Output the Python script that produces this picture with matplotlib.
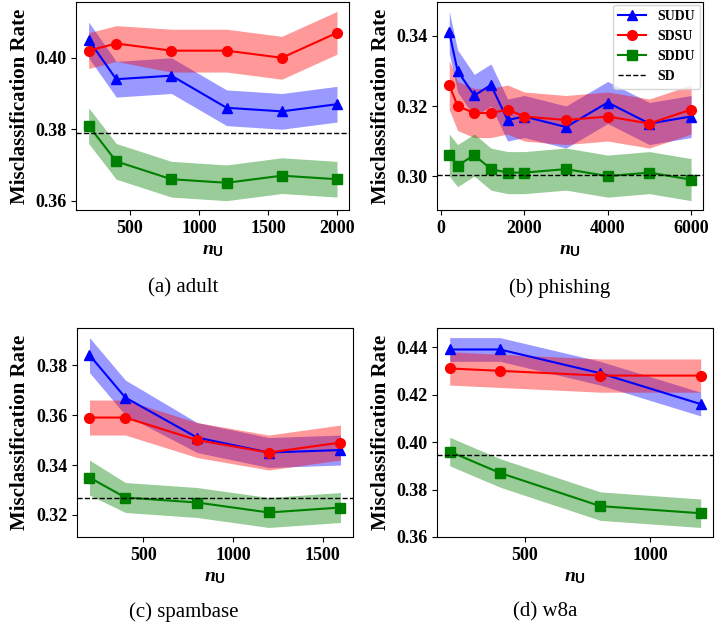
import matplotlib
matplotlib.use('Agg')
import matplotlib.pyplot as plt
from matplotlib.ticker import MultipleLocator
import numpy as np

plt.rcParams['font.family'] = 'Liberation Serif'
plt.rcParams['font.weight'] = 'bold'
plt.rcParams['mathtext.fontset'] = 'custom'
plt.rcParams['mathtext.it'] = 'Liberation Serif:bold:italic'
plt.rcParams['mathtext.sf'] = 'Liberation Sans'

# adult
adult_x = [200, 400, 800, 1200, 1600, 2000]
adult_sudu = [0.405, 0.394, 0.395, 0.386, 0.385, 0.387]
adult_sudu_sd = [0.005, 0.005, 0.005, 0.005, 0.005, 0.005]
adult_sdsu = [0.402, 0.404, 0.402, 0.402, 0.400, 0.407]
adult_sdsu_sd = [0.005, 0.005, 0.006, 0.006, 0.006, 0.006]
adult_sddu = [0.381, 0.371, 0.366, 0.365, 0.367, 0.366]
adult_sddu_sd = [0.005, 0.005, 0.005, 0.005, 0.005, 0.005]
adult_sd = 0.379

# phishing
phish_x = [200, 400, 800, 1200, 1600, 2000, 3000, 4000, 5000, 6000]
phish_sudu = [0.341, 0.330, 0.323, 0.326, 0.316, 0.317, 0.314, 0.321, 0.315, 0.317]
phish_sudu_sd = [0.006] * 10
phish_sdsu = [0.326, 0.320, 0.318, 0.318, 0.319, 0.317, 0.316, 0.317, 0.315, 0.319]
phish_sdsu_sd = [0.007] * 10
phish_sddu = [0.306, 0.303, 0.306, 0.302, 0.301, 0.301, 0.302, 0.300, 0.301, 0.299]
phish_sddu_sd = [0.006] * 10
phish_sd = 0.3004

# spambase
spam_x = [200, 400, 800, 1200, 1600]
spam_sudu = [0.384, 0.367, 0.351, 0.345, 0.346]
spam_sudu_sd = [0.007, 0.007, 0.006, 0.006, 0.006]
spam_sdsu = [0.359, 0.359, 0.350, 0.345, 0.349]
spam_sdsu_sd = [0.007, 0.007, 0.007, 0.007, 0.007]
spam_sddu = [0.335, 0.327, 0.325, 0.321, 0.323]
spam_sddu_sd = [0.007, 0.006, 0.006, 0.006, 0.006]
spam_sd = 0.3267

# w8a
w8a_x = [200, 400, 800, 1200]
w8a_sudu = [0.439, 0.439, 0.429, 0.416]
w8a_sudu_sd = [0.005, 0.005, 0.005, 0.005]
w8a_sdsu = [0.431, 0.430, 0.428, 0.428]
w8a_sdsu_sd = [0.007, 0.007, 0.007, 0.007]
w8a_sddu = [0.396, 0.387, 0.373, 0.370]
w8a_sddu_sd = [0.006, 0.006, 0.006, 0.006]
w8a_sd = 0.3945

panels = [
    ('(a) adult', adult_x, [(adult_sudu, adult_sudu_sd), (adult_sdsu, adult_sdsu_sd), (adult_sddu, adult_sddu_sd)], adult_sd),
    ('(b) phishing', phish_x, [(phish_sudu, phish_sudu_sd), (phish_sdsu, phish_sdsu_sd), (phish_sddu, phish_sddu_sd)], phish_sd),
    ('(c) spambase', spam_x, [(spam_sudu, spam_sudu_sd), (spam_sdsu, spam_sdsu_sd), (spam_sddu, spam_sddu_sd)], spam_sd),
    ('(d) w8a', w8a_x, [(w8a_sudu, w8a_sudu_sd), (w8a_sdsu, w8a_sdsu_sd), (w8a_sddu, w8a_sddu_sd)], w8a_sd),
]

names = ['SUDU', 'SDSU', 'SDDU']
colors = ['b', 'r', 'g']
markers = ['^', 'o', 's']

# axes rectangles in figure fraction
rects = [
    [0.106, 0.667, 0.380, 0.330],
    [0.608, 0.667, 0.370, 0.330],
    [0.107, 0.149, 0.384, 0.331],
    [0.608, 0.149, 0.384, 0.331],
]
caption_pos = [(0.255, 0.544), (0.779, 0.544), (0.256, 0.030), (0.758, 0.030)]

fig = plt.figure(figsize=(7.19, 6.31), dpi=100)

for i, (title, x, series, sd) in enumerate(panels):
    ax = fig.add_axes(rects[i])
    x = np.array(x)
    for (mean, std), name, c, m in zip(series, names, colors, markers):
        mean = np.array(mean)
        std = np.array(std)
        ax.plot(x, mean, color=c, marker=m, markersize=7, linewidth=1.5, label=name)
        ax.fill_between(x, mean - std, mean + std, color=c, alpha=0.4, linewidth=0)
    ax.axhline(sd, color='k', linestyle='--', linewidth=1, label='SD')
    ax.set_ylabel('Misclassification Rate', fontsize=15, fontweight='bold')
    ax.set_xlabel(r'$n_\mathsf{U}$', fontsize=14)
    ax.tick_params(labelsize=13)
    if i == 3:
        ax.xaxis.set_major_locator(MultipleLocator(500))
    for lab in ax.get_xticklabels() + ax.get_yticklabels():
        lab.set_fontweight('bold')
    if i == 1:
        ax.legend(loc='upper right', borderaxespad=0.2, prop={'weight': 'bold', 'size': 10})
    fig.text(caption_pos[i][0], caption_pos[i][1], title, ha='center', va='center',
             fontsize=15, fontweight='normal')

fig.savefig('out.png', dpi=100)
